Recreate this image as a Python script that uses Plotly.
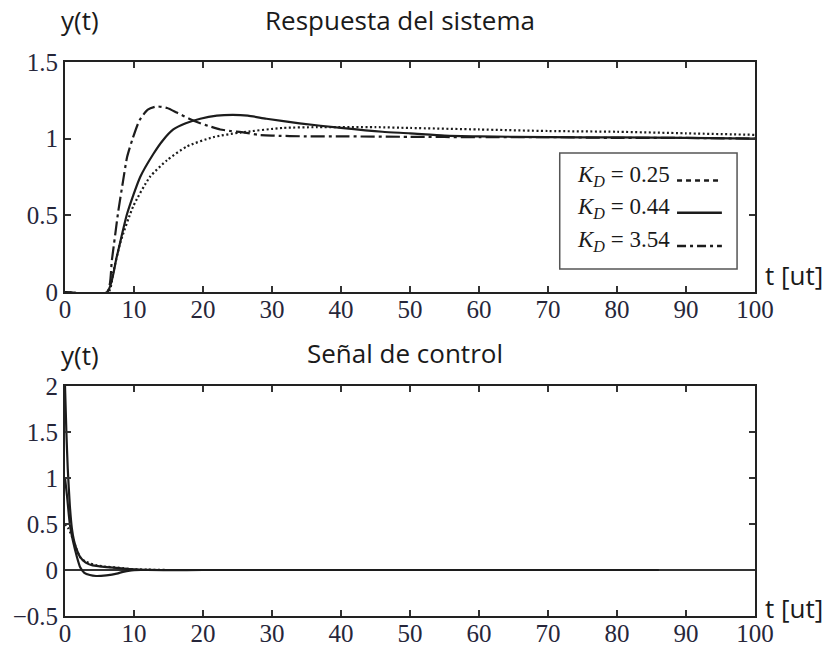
import plotly.graph_objects as go
from plotly.subplots import make_subplots

# ---------------- data: system response ----------------
t_r025 = [0, 6.3, 7.0, 8.0, 9.9, 12.3, 14.8, 17.7, 21.5, 25.4, 31.6, 36.5, 45, 50, 60, 70, 80, 90, 100]
y_r025 = [0, 0, 0.13, 0.32, 0.56, 0.75, 0.86, 0.95, 1.01, 1.04, 1.07, 1.075, 1.075, 1.07, 1.06, 1.05, 1.045, 1.035, 1.025]

t_r044 = [0, 6.1, 7.5, 9.0, 10.9, 12.8, 14.2, 15.7, 17.5, 19.6, 22, 24.3, 26.5, 29.2, 34, 40, 46, 50, 55, 60, 70, 80, 90, 100]
y_r044 = [0, 0, 0.23, 0.51, 0.75, 0.90, 0.99, 1.06, 1.10, 1.13, 1.15, 1.155, 1.15, 1.13, 1.10, 1.07, 1.045, 1.035, 1.02, 1.015, 1.01, 1.008, 1.005, 1.0]

t_r354 = [0, 6.1, 6.8, 7.7, 8.4, 9.0, 9.8, 10.8, 12.0, 13.3, 14.8, 16.2, 18.0, 19.6, 21, 22.5, 24, 26, 28, 30, 35, 40, 50, 60, 70, 80, 90, 100]
y_r354 = [0, 0, 0.21, 0.52, 0.72, 0.88, 1.0, 1.12, 1.19, 1.21, 1.20, 1.17, 1.13, 1.10, 1.08, 1.06, 1.05, 1.04, 1.025, 1.02, 1.015, 1.015, 1.012, 1.01, 1.01, 1.005, 1.005, 1.0]

# ---------------- data: control signal ----------------
t_u025 = [0, 0.5, 1.2, 1.7, 2.2, 3.0, 4.6, 6.0, 8.4, 9.4, 12, 15, 20, 27, 40, 60, 86]
y_u025 = [0.5, 0.45, 0.33, 0.22, 0.14, 0.09, 0.05, 0.035, 0.02, 0.01, 0.004, 0, 0, 0, 0, 0, 0]

t_u044 = [0, 0.3, 0.7, 1.2, 1.7, 2.2, 2.8, 3.6, 4.5, 6.0, 7.5, 8.4, 9.4, 11, 15, 30, 60, 86]
y_u044 = [1.0, 0.8, 0.5, 0.3, 0.15, 0.03, -0.03, -0.055, -0.065, -0.058, -0.04, -0.02, -0.006, 0, 0, 0, 0, 0]

t_u354 = [0, 0.2, 0.4, 0.7, 1.0, 1.3, 1.7, 2.2, 3.0, 4.0, 5.0, 7.0, 9.4, 12, 20, 40, 86]
y_u354 = [2.0, 1.5, 1.1, 0.7, 0.45, 0.32, 0.22, 0.14, 0.08, 0.05, 0.04, 0.025, 0.01, 0, 0, 0, 0]

labels = ["0.25", "0.44", "3.54"]
x_ticks = [0, 10, 20, 30, 40, 50, 60, 70, 80, 90, 100]
y1_ticks = [0, 0.5, 1, 1.5]
y1_ticktext = ["0", "0.5", "1", "1.5"]
y2_ticks = [-0.5, 0, 0.5, 1, 1.5, 2]
y2_ticktext = ["\u22120.5", "0", "0.5", "1", "1.5", "2"]

LINE = "#1c1c1c"
DOT = "2px,2.5px"
DASHDOT = "14px,4px,3px,4px"

fig = make_subplots(rows=2, cols=1, vertical_spacing=0.0)

def add(t, y, dash, row):
    fig.add_trace(go.Scatter(x=t, y=y, mode="lines",
                             line=dict(color=LINE, width=2.2, dash=dash, shape="spline", smoothing=0.6),
                             showlegend=False, hoverinfo="skip"), row=row, col=1)

add(t_r025, y_r025, DOT, 1)
add(t_r044, y_r044, "solid", 1)
add(t_r354, y_r354, DASHDOT, 1)
add(t_u025, y_u025, DOT, 2)
add(t_u044, y_u044, "solid", 2)
add(t_u354, y_u354, "solid", 2)

tickfont = dict(family="Liberation Serif", size=25, color="#26263a")
axis_common = dict(showline=True, linewidth=2, linecolor="#222", mirror="ticks",
                   ticks="inside", ticklen=6, tickwidth=1.5, tickcolor="#333",
                   showgrid=False, tickfont=tickfont, automargin=False)

fig.update_xaxes(range=[0, 100], tickvals=x_ticks, zeroline=False, ticklabelstandoff=-6, **axis_common)
fig.update_yaxes(range=[0, 1.5], tickvals=y1_ticks, ticktext=y1_ticktext, zeroline=False,
                 row=1, col=1, **axis_common)
fig.update_yaxes(range=[-0.5, 2], tickvals=y2_ticks, ticktext=y2_ticktext,
                 zeroline=True, zerolinecolor="#333", zerolinewidth=1.5,
                 row=2, col=1, **axis_common)

fig.update_layout(
    width=831, height=649,
    margin=dict(l=65, r=76, t=62, b=33, autoexpand=False),
    paper_bgcolor="white", plot_bgcolor="white",
    xaxis=dict(domain=[0, 1]),
    yaxis=dict(domain=[0.5848, 1.0]),
    yaxis2=dict(domain=[0.0, 0.4152]),
)

sans = dict(family="Open Sans", size=26, color="#1a1a1a")
ann = [
    dict(text="y(t)", x=-0.008, y=1.0, xref="paper", yref="paper", xanchor="left", yanchor="bottom", yshift=22),
    dict(text="Respuesta del sistema", x=0.486, y=1.0, xref="paper", yref="paper", xanchor="center", yanchor="bottom", yshift=22),
    dict(text="t [ut]", x=1.0, y=0.5848, xref="paper", yref="paper", xanchor="left", yanchor="bottom", xshift=8, yshift=-3),
    dict(text="y(t)", x=-0.008, y=0.4152, xref="paper", yref="paper", xanchor="left", yanchor="bottom", yshift=11),
    dict(text="Señal de control", x=0.493, y=0.4152, xref="paper", yref="paper", xanchor="center", yanchor="bottom", yshift=13),
    dict(text="t [ut]", x=1.0, y=0.0, xref="paper", yref="paper", xanchor="left", yanchor="bottom", xshift=8, yshift=-12),
]
for a in ann:
    fig.add_annotation(showarrow=False, font=sans, **a)

# custom legend (sample lines to the right of the labels)
fig.add_shape(type="rect", xref="x domain", yref="y domain", x0=0.717, x1=0.974, y0=0.10, y1=0.604,
              line=dict(color="#555", width=1.5), fillcolor="white", layer="above")
rows_y = [0.505, 0.365, 0.22]
leg_dash = ["5px,4px", "solid", "9px,4px,3px,4px"]
for lab, yy, dsh in zip(labels, rows_y, leg_dash):
    fig.add_annotation(text="<i>K</i><sub><i>D</i></sub> = " + lab, xref="x domain", yref="y domain",
                       x=0.739, y=yy, xanchor="left", yanchor="middle", showarrow=False,
                       font=dict(family="Liberation Serif", size=23, color="#1a1a1a"))
    fig.add_shape(type="line", xref="x domain", yref="y domain", x0=0.887, x1=0.952, y0=yy - 0.02, y1=yy - 0.02,
                  line=dict(color=LINE, width=2.5, dash=dsh), layer="above")

fig.write_html("out.html")
